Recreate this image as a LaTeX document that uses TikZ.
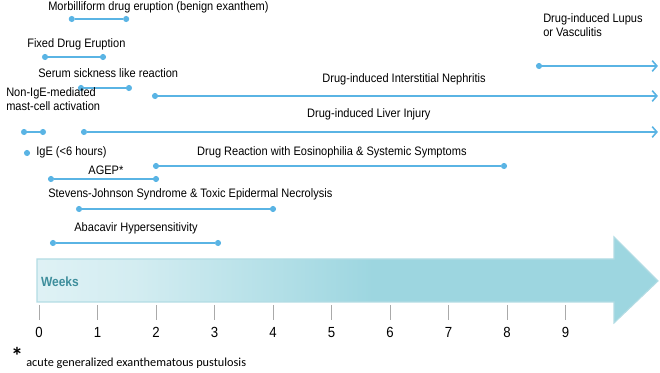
\documentclass[tikz,border=0pt]{standalone}
\usepackage{fontspec}
\setmainfont{Liberation Sans}[FakeStretch=0.9]
\newfontfamily\notefont{Carlito}
\usepackage{tikz}
\usetikzlibrary{arrows.meta,positioning}

\definecolor{lineblue}{RGB}{90,180,228}
\definecolor{bandcyan}{RGB}{157,214,224}
\definecolor{bandedge}{RGB}{178,220,228}
\definecolor{weekteal}{RGB}{62,142,156}
\definecolor{tickgray}{RGB}{170,170,170}

\pgfdeclarehorizontalshading{weekfade}{100bp}{color(0bp)=(white!94!bandcyan); color(15bp)=(white!82!bandcyan); color(33bp)=(white!55!bandcyan); color(52bp)=(bandcyan); color(100bp)=(bandcyan)}

\begin{document}
\begin{tikzpicture}[
    x=43.875pt, y=-0.75pt,
    dot/.style={circle, fill=lineblue, inner sep=0pt, minimum size=4.6pt},
    bar/.style={draw=lineblue, line width=1.5pt},
    arr/.style={bar, -{Straight Barb[length=3.5pt, width=8pt, line width=1.2pt]}},
    lbl/.style={anchor=base west, font=\fontsize{9.2}{11}\selectfont, inner sep=0pt, align=left},
    num/.style={anchor=base, font=\fontsize{11}{13}\selectfont, inner sep=0pt},
]
  \useasboundingbox (-0.66667,0) rectangle (10.6154,373);

  % Time arrow
  \shade[shading=weekfade, draw=bandedge, line width=0.8pt]
    (-0.0342,259) -- (9.829,259) -- (9.829,237) -- (10.581,281)
    -- (9.829,323) -- (9.829,302) -- (-0.0342,302) -- cycle;
  \node[lbl, font=\fontsize{10}{12}\selectfont\bfseries, text=weekteal] (weeks) at (0.03,287) {Weeks};

  % Ticks and week numbers
  \foreach \w in {0,...,9} {
    \draw[tickgray, line width=0.5pt] (\w,305) -- (\w,320);
    \node[num] (w\w) at (\w,338) {\w};
  }

  % Morbilliform
  \node[lbl] (morbT) at (0.154,11) {Morbilliform drug eruption (benign exanthem)};
  \node[dot] (morbA) at (0.56,19) {};
  \node[dot] (morbB) at (1.49,19) {};
  \draw[bar] (morbA) -- (morbB);

  % Fixed drug eruption
  \node[lbl] (fdeT) at (-0.205,47.7) {Fixed Drug Eruption};
  \node[dot] (fdeA) at (0.103,57) {};
  \node[dot] (fdeB) at (1.094,57) {};
  \draw[bar] (fdeA) -- (fdeB);

  % Serum sickness
  \node[lbl] (serT) at (-0.017,78) {Serum sickness like reaction};
  \node[dot] (serA) at (0.718,88) {};
  \node[dot] (serB) at (1.538,88) {};
  \draw[bar] (serA) -- (serB);

  % Lupus / vasculitis
  \node[lbl] (lupT) at (8.615,37) {Drug-induced Lupus\\or Vasculitis};
  \node[dot] (lupA) at (8.547,66) {};
  \coordinate (lupB) at (10.58,66);
  \draw[arr] (lupA) -- (lupB);

  % Interstitial nephritis
  \node[lbl] (nephT) at (4.84,83) {Drug-induced Interstitial Nephritis};
  \node[dot] (nephA) at (1.983,96) {};
  \coordinate (nephB) at (10.58,96);
  \draw[arr] (nephA) -- (nephB);

  % Non-IgE mast-cell activation
  \node[lbl] (mastT) at (-0.564,111) {Non-IgE-mediated\\mast-cell activation};
  \node[dot] (mastA) at (-0.256,132) {};
  \node[dot] (mastB) at (0.068,132) {};
  \draw[bar] (mastA) -- (mastB);

  % Liver injury
  \node[lbl] (livT) at (4.58,118) {Drug-induced Liver Injury};
  \node[dot] (livA) at (0.769,132) {};
  \coordinate (livB) at (10.58,132);
  \draw[arr] (livA) -- (livB);

  % IgE
  \node[dot] (igeA) at (-0.205,153) {};
  \node[lbl] (igeT) at (-0.05,156) {IgE (<6 hours)};

  % DRESS
  \node[lbl] (drsT) at (2.70,156) {Drug Reaction with Eosinophilia \& Systemic Symptoms};
  \node[dot] (drsA) at (2.0,166) {};
  \node[dot] (drsB) at (7.949,166) {};
  \draw[bar] (drsA) -- (drsB);

  % AGEP
  \node[lbl] (agT) at (0.84,175) {AGEP*};
  \node[dot] (agA) at (0.205,179) {};
  \node[dot] (agB) at (2.0,179) {};
  \draw[bar] (agA) -- (agB);

  % SJS / TEN
  \node[lbl] (sjsT) at (0.154,198) {Stevens-Johnson Syndrome \& Toxic Epidermal Necrolysis};
  \node[dot] (sjsA) at (0.684,209) {};
  \node[dot] (sjsB) at (4.0,209) {};
  \draw[bar] (sjsA) -- (sjsB);

  % Abacavir
  \node[lbl] (abaT) at (0.60,232) {Abacavir Hypersensitivity};
  \node[dot] (abaA) at (0.239,243) {};
  \node[dot] (abaB) at (3.06,243) {};
  \draw[bar] (abaA) -- (abaB);

  % Footnote
  \node[anchor=base west, inner sep=0pt, font=\notefont\fontsize{18}{19}\selectfont\bfseries] (star) at (-0.48,365) {*};
  \node[anchor=base west, inner sep=0pt, font=\notefont\fontsize{9.2}{11}\selectfont] (note) at (-0.222,367) {acute generalized exanthematous pustulosis};
\end{tikzpicture}
\end{document}
